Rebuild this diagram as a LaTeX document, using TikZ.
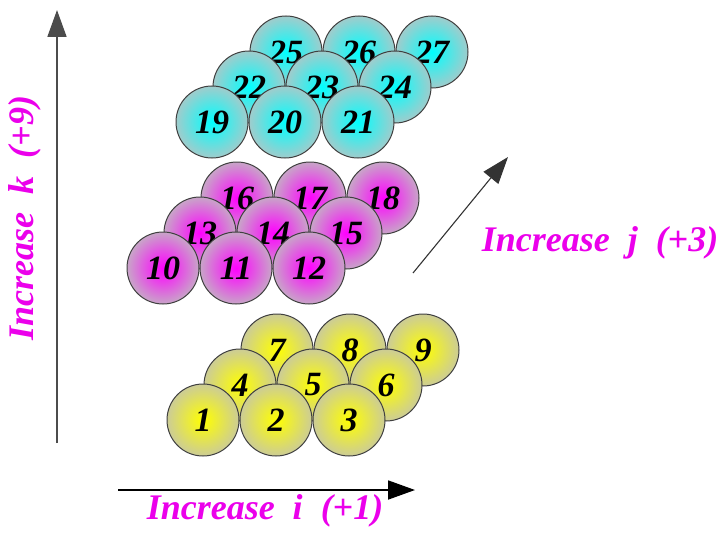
\documentclass[tikz,border=0pt]{standalone}
\usepackage{fontspec}
\setmainfont{Liberation Serif}
\usetikzlibrary{arrows.meta}

\definecolor{yedge}{RGB}{204,204,150}
\definecolor{medge}{RGB}{200,165,200}
\definecolor{cedge}{RGB}{160,204,204}
\definecolor{lblmag}{RGB}{235,0,235}

\tikzset{
	ball/.style={circle, draw=black!75, line width=1pt, minimum size=72pt, inner sep=0pt,
		font=\fontsize{34}{34}\selectfont\bfseries\itshape},
	yball/.style={ball, inner color=yellow, outer color=yedge},
	mball/.style={ball, inner color=magenta, outer color=medge},
	cball/.style={ball, inner color=cyan, outer color=cedge},
	axlabel/.style={text=lblmag, font=\fontsize{36}{36}\selectfont\bfseries\itshape},
	axarrow/.style={-{Triangle[length=27pt,width=19pt]}}
}

\begin{document}
\begin{tikzpicture}[x=1pt,y=-1pt]
		\useasboundingbox (0,0) rectangle (727,532);
		% top layer
		\node[cball] (b25) at (286,52) {25};
		\node[cball] (b26) at (359,52) {26};
		\node[cball] (b27) at (432,52) {27};
		\node[cball] (b22) at (249,87) {22};
		\node[cball] (b23) at (322,87) {23};
		\node[cball] (b24) at (395,87) {24};
		\node[cball] (b19) at (212,122) {19};
		\node[cball] (b20) at (285,122) {20};
		\node[cball] (b21) at (358,122) {21};
		% middle layer
		\node[mball] (b16) at (237,198) {16};
		\node[mball] (b17) at (310,198) {17};
		\node[mball] (b18) at (383,198) {18};
		\node[mball] (b13) at (200,233) {13};
		\node[mball] (b14) at (273,233) {14};
		\node[mball] (b15) at (346,233) {15};
		\node[mball] (b10) at (163,268) {10};
		\node[mball] (b11) at (236,268) {11};
		\node[mball] (b12) at (309,268) {12};
		% bottom layer
		\node[yball] (b7) at (277,350) {7};
		\node[yball] (b8) at (350,350) {8};
		\node[yball] (b9) at (423,350) {9};
		\node[yball] (b4) at (240,385) {4};
		\node[yball] (b5) at (313,385) {5};
		\node[yball] (b6) at (386,385) {6};
		\node[yball] (b1) at (203,420) {1};
		\node[yball] (b2) at (276,420) {2};
		\node[yball] (b3) at (349,420) {3};
		% directions
		\coordinate (kfrom) at (57,443);
		\coordinate (kto) at (57,10);
		\coordinate (ifrom) at (118,490);
		\coordinate (ito) at (415,490);
		\coordinate (jfrom) at (413,273);
		\coordinate (jto) at (508,157);
		\draw[axarrow,draw=black!70,line width=1.8pt] (kfrom) -- (kto);
		\draw[axarrow,line width=1.8pt] (ifrom) -- (ito);
		\draw[axarrow,draw=black!80,line width=1.1pt] (jfrom) -- (jto);
		\node[axlabel,rotate=90] (klabel) at (25,218) {Increase~~k~~(+9)};
		\node[axlabel] (ilabel) at (265,511) {Increase~~i~~(+1)};
		\node[axlabel] (jlabel) at (600,243) {Increase~~j~~(+3)};
	\end{tikzpicture}
\end{document}
